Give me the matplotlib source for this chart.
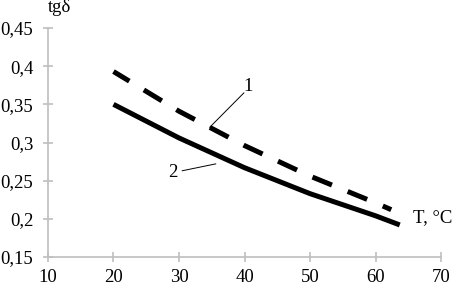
import matplotlib
matplotlib.use("Agg")
import matplotlib.pyplot as plt

plt.rcParams['font.family'] = ['Liberation Serif', 'DejaVu Serif']

# curve 1 (dashed) and curve 2 (solid), tg(delta) vs T
t1 = [20, 30, 40, 50, 60, 62.4]
tg1 = [0.393, 0.341, 0.296, 0.256, 0.221, 0.212]
t2 = [20, 30, 40, 50, 60, 63.7]
tg2 = [0.350, 0.306, 0.267, 0.233, 0.204, 0.192]

xticks = [10, 20, 30, 40, 50, 60, 70]
yticks = [0.15, 0.2, 0.25, 0.3, 0.35, 0.4, 0.45]
ylabels = ["0,15", "0,2", "0,25", "0,3", "0,35", "0,4", "0,45"]

fs = 13.5

fig = plt.figure(figsize=(4.54, 2.86), dpi=100)
ax = fig.add_axes([0.1057, 0.1014, 0.8657, 0.8006])

ax.plot(t1, tg1, color="black", lw=3.6, ls=(0.5, (4.2, 3.4)), dash_capstyle="butt")
ax.plot(t2, tg2, color="black", lw=3.6, solid_capstyle="butt")

ax.set_xlim(10, 70)
ax.set_ylim(0.15, 0.45)
ax.set_xticks(xticks)
ax.set_yticks(yticks)
ax.set_yticklabels(ylabels)

for s in ["top", "right"]:
    ax.spines[s].set_visible(False)
for s in ["left", "bottom"]:
    ax.spines[s].set_color("#bfbfbf")
    ax.spines[s].set_linewidth(1.2)
ax.tick_params(direction="inout", length=7, width=1.2, color="#bfbfbf",
               labelsize=fs, labelcolor="black")
ax.tick_params(axis="y", pad=7)
ax.tick_params(axis="x", pad=5.5)

# curve labels with leader lines
ax.plot([39.9, 34.7], [0.365, 0.320], color="black", lw=0.7)
ax.text(40.5, 0.373, "1", fontsize=fs, ha="center", va="center")
ax.plot([30.5, 35.6], [0.263, 0.272], color="black", lw=0.7)
ax.text(29.0, 0.261, "2", fontsize=fs, ha="center", va="center")

ax.text(11.7, 0.477, "tgδ", fontsize=fs, ha="center", va="center", clip_on=False)
ax.text(68.8, 0.202, "T, °C", fontsize=fs, ha="center", va="center", clip_on=False)

fig.savefig("out.png", dpi=100)
